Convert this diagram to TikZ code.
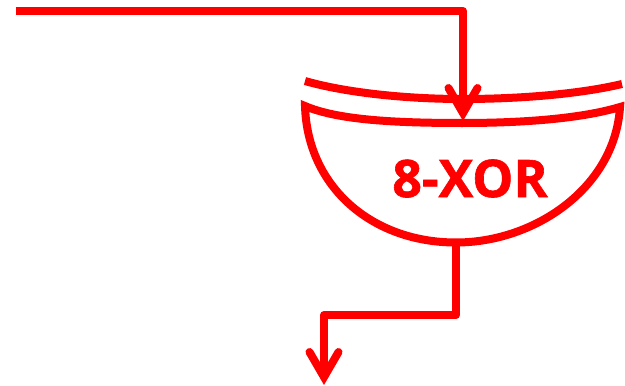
\documentclass[tikz,border=0pt]{standalone}
\usepackage{xcolor}
\usepackage{fontspec}
\setmainfont{Open Sans}
\usepackage{tikz}
\usetikzlibrary{arrows.meta, positioning, calc}
\definecolor{myred}{RGB}{255,0,0}
\tikzset{
  gateline/.style={draw=myred, line width=0.16cm},
  wire/.style={myred, line width=0.16cm, line join=round,
    -{Straight Barb[line cap=round, line join=miter, length=0.5cm, width=0.58cm]}},
  gatelabel/.style={font=\fontsize{29.5}{32}\selectfont\bfseries\addfontfeature{FakeBold=1.2}, text=myred, inner sep=0pt}
}
\begin{document}
\begin{tikzpicture}
  \useasboundingbox (0,0) rectangle (12.5,7.7);
  % Gate body
  \draw[gateline] (6.1,5.58) .. controls (6.75,5.3) and (7.9,5.24) .. (9.25,5.24)
    .. controls (10.4,5.24) and (11.6,5.32) .. (12.4,5.56)
    .. controls (12.3,3.95) and (10.7,2.85) .. (9.12,2.85)
    .. controls (7.45,2.85) and (6.15,3.95) .. (6.1,5.58) -- cycle;
  % Lid
  \draw[gateline] (6.1,6.08) .. controls (6.9,5.85) and (8.1,5.72) .. (9.25,5.72)
    .. controls (10.4,5.72) and (11.6,5.82) .. (12.44,6.02);
  \node[gatelabel] (xorlabel) at (9.4,4.13) {8-XOR};
  % Wires
  \coordinate (instart) at (0.31,7.48);
  \coordinate (incorner) at (9.26,7.48);
  \coordinate (intip) at (9.26,5.28);
  \coordinate (outstart) at (9.12,2.85);
  \coordinate (outcorner) at (9.12,1.4);
  \coordinate (outbend) at (6.48,1.4);
  \coordinate (outtip) at (6.48,0.0);
  \draw[wire] (instart) -- (incorner) -- (intip);
  \draw[wire] (outstart) -- (outcorner) -- (outbend) -- (outtip);
\end{tikzpicture}
\end{document}
